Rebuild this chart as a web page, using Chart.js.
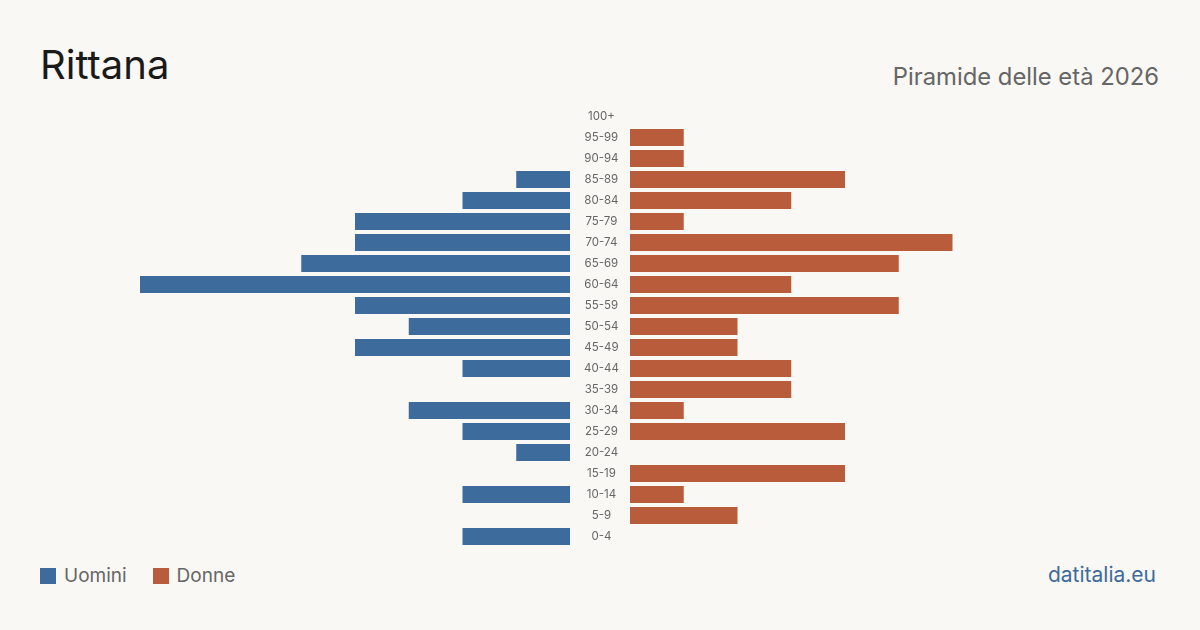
<!DOCTYPE html>
<html lang="it">
<head>
<meta charset="utf-8">
<title>Rittana - Piramide delle età 2026</title>
<script src="https://cdn.jsdelivr.net/npm/chart.js@4.4.1/dist/chart.umd.min.js"></script>
<style>
    html, body { margin: 0; padding: 0; }
    body {
        width: 1200px;
        height: 630px;
        background: #f9f8f4;
        font-family: Inter, "Noto Sans", sans-serif;
        position: relative;
        overflow: hidden;
    }
    .title {
        position: absolute; left: 40px; top: 45px;
        font-size: 40px; color: #1a1a1a; line-height: 1;
    }
    .subtitle {
        position: absolute; right: 41px; top: 65px;
        font-size: 23.8px; color: #666; line-height: 1;
    }
    .legend {
        position: absolute; left: 40px; top: 566px;
        font-size: 19px; color: #666; line-height: 20px;
        display: flex; align-items: center;
    }
    .legend .sw { width: 16px; height: 16px; display: inline-block; margin-right: 8px; }
    .legend .item { display: flex; align-items: center; margin-right: 26px; }
    .source {
        position: absolute; right: 44px; top: 565px;
        font-size: 21px; color: #3d6b9c; line-height: 20px;
    }
    .box { position: absolute; top: 106px; height: 441px; }
    #left { left: 140px; width: 490px; }
    #right { left: 630px; width: 430px; }
</style>
</head>
<body>
<div class="title">Rittana</div>
<div class="subtitle">Piramide delle età 2026</div>

<div class="box" id="left"><canvas id="menChart"></canvas></div>
<div class="box" id="right"><canvas id="womenChart"></canvas></div>

<div class="legend">
    <span class="item"><span class="sw" style="background:#3d6b9c"></span>Uomini</span>
    <span class="item"><span class="sw" style="background:#b85c3c"></span>Donne</span>
</div>
<div class="source">datitalia.eu</div>

<script>
// age classes, top to bottom
const ageGroups = ['100+', '95-99', '90-94', '85-89', '80-84', '75-79', '70-74', '65-69', '60-64', '55-59',
    '50-54', '45-49', '40-44', '35-39', '30-34', '25-29', '20-24', '15-19', '10-14', '5-9', '0-4'];
const men   = [0, 0, 0, 1, 2, 4, 4, 5, 8, 4, 3, 4, 2, 0, 3, 2, 1, 0, 2, 0, 2];
const women = [0, 1, 1, 4, 3, 1, 6, 5, 3, 5, 2, 2, 3, 3, 1, 4, 0, 4, 1, 2, 0];
const maxValue = 8;

const BLUE = '#3d6b9c';
const RED = '#b85c3c';

Chart.defaults.font.family = 'Inter, "Noto Sans", sans-serif';
Chart.defaults.animation = false;

function baseOptions(reverse) {
    return {
        indexAxis: 'y',
        responsive: true,
        maintainAspectRatio: false,
        layout: { padding: 0 },
        plugins: {
            legend: { display: false },
            tooltip: { enabled: false }
        },
        scales: {
            x: {
                display: false,
                min: 0,
                max: maxValue,
                reverse: reverse
            },
            y: {
                display: false,
                grid: { display: false }
            }
        }
    };
}

// men chart carries the age labels in the middle column
const menOpts = baseOptions(true);
menOpts.scales.y = {
    display: true,
    position: 'right',
    grid: { display: false, drawTicks: true, tickLength: 14 },
    border: { display: false },
    ticks: {
        crossAlign: 'center',
        padding: 0,
        color: '#666',
        font: { size: 11.5 }
    },
    afterFit(scale) {
        scale.width = 60;
        scale.paddingTop = 0;
        scale.paddingBottom = 0;
    }
};

function dataset(label, values, color) {
    return {
        label: label,
        data: values.map(v => v === 0 ? null : v),
        backgroundColor: color,
        barThickness: 17,
        inflateAmount: 0
    };
}

new Chart(document.getElementById('menChart'), {
    type: 'bar',
    data: { labels: ageGroups, datasets: [dataset('Uomini', men, BLUE)] },
    options: menOpts
});

new Chart(document.getElementById('womenChart'), {
    type: 'bar',
    data: { labels: ageGroups, datasets: [dataset('Donne', women, RED)] },
    options: baseOptions(false)
});
</script>
</body>
</html>
